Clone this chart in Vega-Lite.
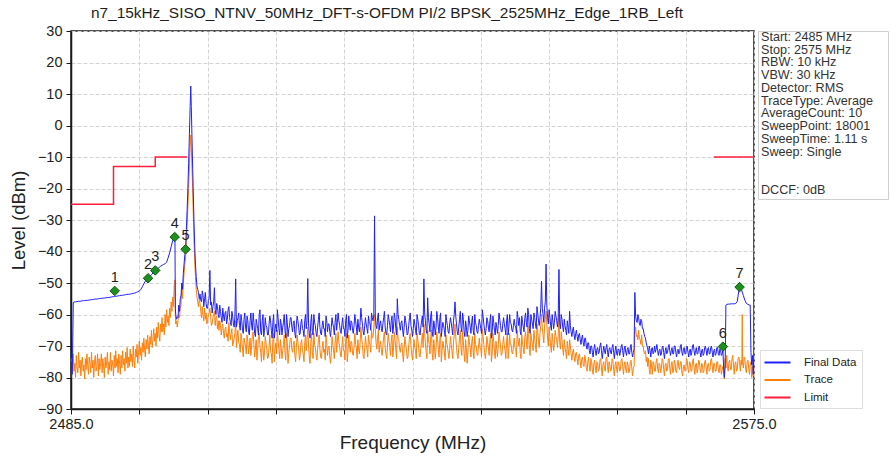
{
"$schema": "https://vega.github.io/schema/vega-lite/v6.json",
"background": "white",
"padding": {"left": 8, "top": 5, "right": 0, "bottom": 0},
"config": {"font": "Liberation Sans", "view": {"stroke": null}},
"title": {"text": "n7_15kHz_SISO_NTNV_50MHz_DFT-s-OFDM PI/2 BPSK_2525MHz_Edge_1RB_Left", "fontSize": 15.4, "fontWeight": "normal", "color": "#1e1e1e", "anchor": "start", "frame": "group", "dx": 20, "offset": 1},
"datasets": {
"tr": [
{"f":2485.0,"v":-79},{"f":2485.1,"v":-74},{"f":2485.2,"v":-77.5},{"f":2485.3,"v":-72.5},{"f":2485.4,"v":-78},{"f":2485.5,"v":-75.5},{"f":2485.6,"v":-80},{"f":2485.7,"v":-73},{"f":2485.8,"v":-76.5},{"f":2485.9,"v":-78.5},
{"f":2486.0,"v":-72},{"f":2486.1,"v":-77},{"f":2486.2,"v":-74.5},{"f":2486.3,"v":-79.5},{"f":2486.4,"v":-75},{"f":2486.5,"v":-73.5},{"f":2486.6,"v":-78},{"f":2486.7,"v":-76},{"f":2486.8,"v":-80.5},{"f":2486.9,"v":-74},
{"f":2487.0,"v":-77.5},{"f":2487.1,"v":-72.5},{"f":2487.2,"v":-76},{"f":2487.3,"v":-79},{"f":2487.4,"v":-73.5},{"f":2487.5,"v":-75.5},{"f":2487.6,"v":-78.5},{"f":2487.7,"v":-72},{"f":2487.8,"v":-77},{"f":2487.9,"v":-74.5},
{"f":2488.0,"v":-80},{"f":2488.1,"v":-75},{"f":2488.2,"v":-73},{"f":2488.3,"v":-78},{"f":2488.4,"v":-76.5},{"f":2488.5,"v":-72.5},{"f":2488.6,"v":-79.5},{"f":2488.7,"v":-74},{"f":2488.8,"v":-77.5},{"f":2488.9,"v":-75.5},
{"f":2489.0,"v":-72.5},{"f":2489.1,"v":-78.5},{"f":2489.2,"v":-74},{"f":2489.3,"v":-76.5},{"f":2489.4,"v":-80},{"f":2489.5,"v":-73.5},{"f":2489.6,"v":-77},{"f":2489.7,"v":-75},{"f":2489.8,"v":-72},{"f":2489.9,"v":-79},
{"f":2490.0,"v":-75},{"f":2490.1,"v":-77.5},{"f":2490.2,"v":-72},{"f":2490.3,"v":-78},{"f":2490.4,"v":-74.5},{"f":2490.5,"v":-76},{"f":2490.6,"v":-79.5},{"f":2490.7,"v":-73},{"f":2490.8,"v":-77},{"f":2490.9,"v":-71.5},
{"f":2491.0,"v":-76.5},{"f":2491.1,"v":-74},{"f":2491.2,"v":-78.5},{"f":2491.3,"v":-72.5},{"f":2491.4,"v":-75.5},{"f":2491.5,"v":-79},{"f":2491.6,"v":-73},{"f":2491.7,"v":-77},{"f":2491.8,"v":-71.5},{"f":2491.9,"v":-76},
{"f":2492.0,"v":-74},{"f":2492.1,"v":-78},{"f":2492.2,"v":-72},{"f":2492.3,"v":-75.5},{"f":2492.4,"v":-70.5},{"f":2492.5,"v":-77},{"f":2492.6,"v":-73.5},{"f":2492.7,"v":-76.5},{"f":2492.8,"v":-71},{"f":2492.9,"v":-75},
{"f":2493.0,"v":-72.5},{"f":2493.1,"v":-76.5},{"f":2493.2,"v":-70},{"f":2493.3,"v":-74.5},{"f":2493.4,"v":-77},{"f":2493.5,"v":-71},{"f":2493.6,"v":-73.5},{"f":2493.7,"v":-69.5},{"f":2493.8,"v":-75.5},{"f":2493.9,"v":-72},
{"f":2494.0,"v":-68.5},{"f":2494.1,"v":-73},{"f":2494.2,"v":-70.5},{"f":2494.3,"v":-74.5},{"f":2494.4,"v":-69},{"f":2494.5,"v":-72},{"f":2494.6,"v":-67.5},{"f":2494.7,"v":-71.5},{"f":2494.8,"v":-73.5},{"f":2494.9,"v":-68},
{"f":2495.0,"v":-71},{"f":2495.1,"v":-66.5},{"f":2495.2,"v":-70},{"f":2495.3,"v":-72.5},{"f":2495.4,"v":-67},{"f":2495.5,"v":-69.5},{"f":2495.6,"v":-65},{"f":2495.7,"v":-70.5},{"f":2495.8,"v":-68},{"f":2495.9,"v":-64.5},
{"f":2496.0,"v":-68.5},{"f":2496.1,"v":-66},{"f":2496.2,"v":-70},{"f":2496.3,"v":-64},{"f":2496.4,"v":-67.5},{"f":2496.5,"v":-62.5},{"f":2496.6,"v":-66.5},{"f":2496.7,"v":-68.5},{"f":2496.8,"v":-63},{"f":2496.9,"v":-65.5},
{"f":2497.0,"v":-61},{"f":2497.1,"v":-65.5},{"f":2497.2,"v":-63},{"f":2497.3,"v":-66.5},{"f":2497.4,"v":-60},{"f":2497.5,"v":-64},{"f":2497.6,"v":-58.5},{"f":2497.7,"v":-62.5},{"f":2497.8,"v":-60.5},{"f":2497.9,"v":-63.5},
{"f":2498.0,"v":-58},{"f":2498.1,"v":-61},{"f":2498.2,"v":-56},{"f":2498.3,"v":-59},{"f":2498.4,"v":-54.5},{"f":2498.5,"v":-57.5},{"f":2498.6,"v":-51},{"f":2498.7,"v":-49},{"f":2498.75,"v":-60},{"f":2498.8,"v":-63},
{"f":2498.9,"v":-62},{"f":2499.0,"v":-64},{"f":2499.1,"v":-62},{"f":2499.2,"v":-60},{"f":2499.3,"v":-61},{"f":2499.4,"v":-58},{"f":2499.5,"v":-57},{"f":2499.6,"v":-51},{"f":2499.7,"v":-55},{"f":2499.8,"v":-50},
{"f":2499.9,"v":-47},{"f":2500.0,"v":-44},{"f":2500.1,"v":-42},{"f":2500.2,"v":-37},{"f":2500.3,"v":-32},{"f":2500.4,"v":-26},{"f":2500.5,"v":-20},{"f":2500.6,"v":-13},{"f":2500.7,"v":-7},{"f":2500.78,"v":-3},
{"f":2500.85,"v":-7},{"f":2501.0,"v":-18},{"f":2501.1,"v":-27},{"f":2501.2,"v":-36},{"f":2501.3,"v":-43},{"f":2501.4,"v":-48},{"f":2501.5,"v":-52},{"f":2501.6,"v":-54.5},{"f":2501.7,"v":-56},{"f":2501.8,"v":-57.5},{"f":2501.9,"v":-55},
{"f":2502.0,"v":-56.5},{"f":2502.1,"v":-59},{"f":2502.2,"v":-61},{"f":2502.3,"v":-57.5},{"f":2502.4,"v":-60.5},{"f":2502.5,"v":-62},{"f":2502.6,"v":-58},{"f":2502.7,"v":-61.5},{"f":2502.8,"v":-59.5},{"f":2502.9,"v":-63},
{"f":2503.0,"v":-62},{"f":2503.1,"v":-60},{"f":2503.2,"v":-59.5},{"f":2503.3,"v":-58},{"f":2503.4,"v":-60.5},{"f":2503.5,"v":-63.5},{"f":2503.6,"v":-63},{"f":2503.7,"v":-61},{"f":2503.8,"v":-60},{"f":2503.9,"v":-59},
{"f":2504.0,"v":-63.5},{"f":2504.1,"v":-61},{"f":2504.2,"v":-60.5},{"f":2504.3,"v":-64.5},{"f":2504.4,"v":-62},{"f":2504.5,"v":-65},{"f":2504.6,"v":-62},{"f":2504.7,"v":-63.5},{"f":2504.8,"v":-66.5},{"f":2504.9,"v":-64},
{"f":2505.0,"v":-63},{"f":2505.1,"v":-66},{"f":2505.2,"v":-67.5},{"f":2505.3,"v":-64.5},{"f":2505.4,"v":-64},{"f":2505.5,"v":-67},{"f":2505.6,"v":-66},{"f":2505.7,"v":-68.5},{"f":2505.8,"v":-62.5},{"f":2505.9,"v":-65.5},
{"f":2506.0,"v":-68},{"f":2506.1,"v":-66},{"f":2506.2,"v":-64.5},{"f":2506.3,"v":-70},{"f":2506.4,"v":-69},{"f":2506.5,"v":-67.5},{"f":2506.6,"v":-66},{"f":2506.7,"v":-62},{"f":2506.8,"v":-70.5},{"f":2506.9,"v":-67},
{"f":2507.0,"v":-65},{"f":2507.1,"v":-69},{"f":2507.2,"v":-69.5},{"f":2507.3,"v":-72},{"f":2507.4,"v":-66},{"f":2507.5,"v":-68},{"f":2507.6,"v":-71},{"f":2507.7,"v":-73.5},{"f":2507.8,"v":-67.5},{"f":2507.9,"v":-69},
{"f":2508.0,"v":-70},{"f":2508.1,"v":-72.5},{"f":2508.2,"v":-66.5},{"f":2508.3,"v":-68.5},{"f":2508.4,"v":-72.5},{"f":2508.5,"v":-70},{"f":2508.6,"v":-67.5},{"f":2508.7,"v":-73},{"f":2508.8,"v":-70},{"f":2508.9,"v":-66.5},
{"f":2509.0,"v":-65.5},{"f":2509.1,"v":-69.5},{"f":2509.2,"v":-73.5},{"f":2509.3,"v":-71},{"f":2509.4,"v":-68},{"f":2509.5,"v":-74.5},{"f":2509.6,"v":-71.5},{"f":2509.7,"v":-67},{"f":2509.8,"v":-66},{"f":2509.9,"v":-70},
{"f":2510.0,"v":-72},{"f":2510.1,"v":-75},{"f":2510.2,"v":-68.5},{"f":2510.3,"v":-70.5},{"f":2510.4,"v":-74.5},{"f":2510.5,"v":-72},{"f":2510.6,"v":-67},{"f":2510.7,"v":-69},{"f":2510.8,"v":-71},{"f":2510.9,"v":-74},
{"f":2511.0,"v":-73.5},{"f":2511.1,"v":-70},{"f":2511.2,"v":-66.5},{"f":2511.3,"v":-71.5},{"f":2511.4,"v":-72.5},{"f":2511.5,"v":-75.5},{"f":2511.6,"v":-68},{"f":2511.7,"v":-66},{"f":2511.8,"v":-75},{"f":2511.9,"v":-71},
{"f":2512.0,"v":-69},{"f":2512.1,"v":-72.5},{"f":2512.2,"v":-65},{"f":2512.3,"v":-68.5},{"f":2512.4,"v":-71},{"f":2512.5,"v":-74},{"f":2512.6,"v":-68},{"f":2512.7,"v":-70.5},{"f":2512.8,"v":-74},{"f":2512.9,"v":-71.5},
{"f":2513.0,"v":-69.5},{"f":2513.1,"v":-66.5},{"f":2513.2,"v":-72},{"f":2513.3,"v":-74.5},{"f":2513.4,"v":-66},{"f":2513.5,"v":-69},{"f":2513.6,"v":-75.5},{"f":2513.7,"v":-72},{"f":2513.8,"v":-70},{"f":2513.9,"v":-67.5},
{"f":2514.0,"v":-67.5},{"f":2514.1,"v":-71},{"f":2514.2,"v":-72},{"f":2514.3,"v":-69.5},{"f":2514.4,"v":-68.5},{"f":2514.5,"v":-73},{"f":2514.6,"v":-75},{"f":2514.7,"v":-70.5},{"f":2514.8,"v":-66.5},{"f":2514.9,"v":-69},
{"f":2515.0,"v":-71},{"f":2515.1,"v":-74.5},{"f":2515.2,"v":-73},{"f":2515.3,"v":-69},{"f":2515.4,"v":-68},{"f":2515.5,"v":-71.5},{"f":2515.6,"v":-72.5},{"f":2515.7,"v":-75},{"f":2515.8,"v":-69},{"f":2515.9,"v":-66.5},
{"f":2516.0,"v":-71.5},{"f":2516.1,"v":-68},{"f":2516.2,"v":-64},{"f":2516.3,"v":-70},{"f":2516.4,"v":-73.5},{"f":2516.5,"v":-75.5},{"f":2516.6,"v":-69},{"f":2516.7,"v":-66},{"f":2516.8,"v":-72},{"f":2516.9,"v":-74},
{"f":2517.0,"v":-66},{"f":2517.1,"v":-69.5},{"f":2517.2,"v":-70.5},{"f":2517.3,"v":-73},{"f":2517.4,"v":-74.5},{"f":2517.5,"v":-71},{"f":2517.6,"v":-68},{"f":2517.7,"v":-66.5},{"f":2517.8,"v":-71},{"f":2517.9,"v":-73.5},
{"f":2518.0,"v":-74},{"f":2518.1,"v":-70.5},{"f":2518.2,"v":-68.5},{"f":2518.3,"v":-72},{"f":2518.4,"v":-71},{"f":2518.5,"v":-74.5},{"f":2518.6,"v":-66.5},{"f":2518.7,"v":-69},{"f":2518.8,"v":-73},{"f":2518.9,"v":-70.5},
{"f":2519.0,"v":-70},{"f":2519.1,"v":-73.5},{"f":2519.2,"v":-75.5},{"f":2519.3,"v":-72},{"f":2519.4,"v":-67},{"f":2519.5,"v":-69.5},{"f":2519.6,"v":-71.5},{"f":2519.7,"v":-74},{"f":2519.8,"v":-69},{"f":2519.9,"v":-66},
{"f":2520.0,"v":-72},{"f":2520.1,"v":-68.5},{"f":2520.2,"v":-65.5},{"f":2520.3,"v":-69},{"f":2520.4,"v":-70},{"f":2520.5,"v":-72.5},{"f":2520.6,"v":-73.5},{"f":2520.7,"v":-70},{"f":2520.8,"v":-67},{"f":2520.9,"v":-71.5},
{"f":2521.0,"v":-71.5},{"f":2521.1,"v":-74.5},{"f":2521.2,"v":-68},{"f":2521.3,"v":-66},{"f":2521.4,"v":-75},{"f":2521.5,"v":-72},{"f":2521.6,"v":-66.5},{"f":2521.7,"v":-70},{"f":2521.8,"v":-72},{"f":2521.9,"v":-68.5},
{"f":2522.0,"v":-69},{"f":2522.1,"v":-72.5},{"f":2522.2,"v":-73},{"f":2522.3,"v":-70},{"f":2522.4,"v":-66},{"f":2522.5,"v":-69.5},{"f":2522.6,"v":-70.5},{"f":2522.7,"v":-74},{"f":2522.8,"v":-68},{"f":2522.9,"v":-71},
{"f":2523.0,"v":-72.5},{"f":2523.1,"v":-69},{"f":2523.2,"v":-64},{"f":2523.3,"v":-67.5},{"f":2523.4,"v":-69.5},{"f":2523.5,"v":-73},{"f":2523.6,"v":-74},{"f":2523.7,"v":-70.5},{"f":2523.8,"v":-67},{"f":2523.9,"v":-69.5},
{"f":2524.0,"v":-71},{"f":2524.1,"v":-73.5},{"f":2524.2,"v":-66.5},{"f":2524.3,"v":-69},{"f":2524.4,"v":-69.5},{"f":2524.5,"v":-72},{"f":2524.6,"v":-65},{"f":2524.7,"v":-67.5},{"f":2524.8,"v":-67},{"f":2524.9,"v":-64},
{"f":2525.0,"v":-60},{"f":2525.1,"v":-64.5},{"f":2525.2,"v":-69},{"f":2525.3,"v":-71},{"f":2525.4,"v":-67.5},{"f":2525.5,"v":-65},{"f":2525.6,"v":-72},{"f":2525.7,"v":-69.5},{"f":2525.8,"v":-68.5},{"f":2525.9,"v":-71.5},
{"f":2526.0,"v":-73},{"f":2526.1,"v":-70},{"f":2526.2,"v":-67},{"f":2526.3,"v":-65.5},{"f":2526.4,"v":-70.5},{"f":2526.5,"v":-72.5},{"f":2526.6,"v":-74},{"f":2526.7,"v":-70},{"f":2526.8,"v":-66},{"f":2526.9,"v":-68.5},
{"f":2527.0,"v":-70},{"f":2527.1,"v":-73},{"f":2527.2,"v":-68.5},{"f":2527.3,"v":-66.5},{"f":2527.4,"v":-73.5},{"f":2527.5,"v":-70.5},{"f":2527.6,"v":-65.5},{"f":2527.7,"v":-68},{"f":2527.8,"v":-71},{"f":2527.9,"v":-74},
{"f":2528.0,"v":-64},{"f":2528.1,"v":-67.5},{"f":2528.2,"v":-68},{"f":2528.3,"v":-71},{"f":2528.4,"v":-72},{"f":2528.5,"v":-69.5},{"f":2528.6,"v":-69},{"f":2528.7,"v":-72.5},{"f":2528.8,"v":-75},{"f":2528.9,"v":-71},
{"f":2529.0,"v":-67},{"f":2529.1,"v":-69.5},{"f":2529.2,"v":-71},{"f":2529.3,"v":-74},{"f":2529.4,"v":-73.5},{"f":2529.5,"v":-70},{"f":2529.6,"v":-67.5},{"f":2529.7,"v":-66},{"f":2529.8,"v":-70},{"f":2529.9,"v":-72.5},
{"f":2530.0,"v":-74.5},{"f":2530.1,"v":-71},{"f":2530.2,"v":-68},{"f":2530.3,"v":-70.5},{"f":2530.4,"v":-71.5},{"f":2530.5,"v":-74},{"f":2530.6,"v":-66},{"f":2530.7,"v":-68},{"f":2530.8,"v":-70},{"f":2530.9,"v":-73},
{"f":2531.0,"v":-73.5},{"f":2531.1,"v":-70.5},{"f":2531.2,"v":-68.5},{"f":2531.3,"v":-66},{"f":2531.4,"v":-70.5},{"f":2531.5,"v":-63},{"f":2531.6,"v":-66},{"f":2531.7,"v":-69},{"f":2531.8,"v":-72},{"f":2531.9,"v":-74},
{"f":2532.0,"v":-65},{"f":2532.1,"v":-68},{"f":2532.2,"v":-69.5},{"f":2532.3,"v":-72.5},{"f":2532.4,"v":-67},{"f":2532.5,"v":-65},{"f":2532.6,"v":-72.5},{"f":2532.7,"v":-74.5},{"f":2532.8,"v":-68},{"f":2532.9,"v":-70.5},
{"f":2533.0,"v":-74},{"f":2533.1,"v":-71},{"f":2533.2,"v":-65.5},{"f":2533.3,"v":-68},{"f":2533.4,"v":-71},{"f":2533.5,"v":-73.5},{"f":2533.6,"v":-68},{"f":2533.7,"v":-66},{"f":2533.8,"v":-75},{"f":2533.9,"v":-71.5},
{"f":2534.0,"v":-68.5},{"f":2534.1,"v":-70},{"f":2534.2,"v":-72},{"f":2534.3,"v":-74.5},{"f":2534.4,"v":-66.5},{"f":2534.5,"v":-69},{"f":2534.6,"v":-70},{"f":2534.7,"v":-72},{"f":2534.8,"v":-74},{"f":2534.9,"v":-71},
{"f":2535.0,"v":-67},{"f":2535.1,"v":-69.5},{"f":2535.2,"v":-71.5},{"f":2535.3,"v":-74},{"f":2535.4,"v":-69},{"f":2535.5,"v":-66.5},{"f":2535.6,"v":-63},{"f":2535.7,"v":-67},{"f":2535.8,"v":-70.5},{"f":2535.9,"v":-73},
{"f":2536.0,"v":-74},{"f":2536.1,"v":-70.5},{"f":2536.2,"v":-67.5},{"f":2536.3,"v":-65},{"f":2536.4,"v":-71},{"f":2536.5,"v":-73},{"f":2536.6,"v":-65.5},{"f":2536.7,"v":-68.5},{"f":2536.8,"v":-72.5},{"f":2536.9,"v":-75},
{"f":2537.0,"v":-68},{"f":2537.1,"v":-71},{"f":2537.2,"v":-75.5},{"f":2537.3,"v":-72},{"f":2537.4,"v":-66.5},{"f":2537.5,"v":-69},{"f":2537.6,"v":-70.5},{"f":2537.7,"v":-73.5},{"f":2537.8,"v":-69},{"f":2537.9,"v":-67},
{"f":2538.0,"v":-72},{"f":2538.1,"v":-74},{"f":2538.2,"v":-66},{"f":2538.3,"v":-69.5},{"f":2538.4,"v":-70},{"f":2538.5,"v":-72.5},{"f":2538.6,"v":-73},{"f":2538.7,"v":-70},{"f":2538.8,"v":-67.5},{"f":2538.9,"v":-70.5},
{"f":2539.0,"v":-71},{"f":2539.1,"v":-73.5},{"f":2539.2,"v":-64.5},{"f":2539.3,"v":-67},{"f":2539.4,"v":-69.5},{"f":2539.5,"v":-72},{"f":2539.6,"v":-74},{"f":2539.7,"v":-71.5},{"f":2539.8,"v":-67},{"f":2539.9,"v":-69},
{"f":2540.0,"v":-70.5},{"f":2540.1,"v":-73},{"f":2540.2,"v":-68},{"f":2540.3,"v":-66},{"f":2540.4,"v":-75},{"f":2540.5,"v":-72.5},{"f":2540.6,"v":-66},{"f":2540.7,"v":-68.5},{"f":2540.8,"v":-72},{"f":2540.9,"v":-74},
{"f":2541.0,"v":-68.5},{"f":2541.1,"v":-71},{"f":2541.2,"v":-73.5},{"f":2541.3,"v":-70},{"f":2541.4,"v":-65.5},{"f":2541.5,"v":-68},{"f":2541.6,"v":-70},{"f":2541.7,"v":-73},{"f":2541.8,"v":-72.5},{"f":2541.9,"v":-69.5},
{"f":2542.0,"v":-67},{"f":2542.1,"v":-70},{"f":2542.2,"v":-71.5},{"f":2542.3,"v":-74},{"f":2542.4,"v":-68.5},{"f":2542.5,"v":-66},{"f":2542.6,"v":-74},{"f":2542.7,"v":-71},{"f":2542.8,"v":-66},{"f":2542.9,"v":-69.5},
{"f":2543.0,"v":-69.5},{"f":2543.1,"v":-72},{"f":2543.2,"v":-72.5},{"f":2543.3,"v":-70},{"f":2543.4,"v":-67.5},{"f":2543.5,"v":-70.5},{"f":2543.6,"v":-71},{"f":2543.7,"v":-73.5},{"f":2543.8,"v":-65},{"f":2543.9,"v":-68},
{"f":2544.0,"v":-70},{"f":2544.1,"v":-67.5},{"f":2544.2,"v":-72.5},{"f":2544.3,"v":-74},{"f":2544.4,"v":-66.5},{"f":2544.5,"v":-69},{"f":2544.6,"v":-70.5},{"f":2544.7,"v":-72.5},{"f":2544.8,"v":-67},{"f":2544.9,"v":-65.5},
{"f":2545.0,"v":-68.5},{"f":2545.1,"v":-71},{"f":2545.2,"v":-63.5},{"f":2545.3,"v":-66},{"f":2545.4,"v":-71},{"f":2545.5,"v":-73},{"f":2545.6,"v":-66},{"f":2545.7,"v":-68},{"f":2545.8,"v":-69.5},{"f":2545.9,"v":-71.5},
{"f":2546.0,"v":-65},{"f":2546.1,"v":-67.5},{"f":2546.2,"v":-70},{"f":2546.3,"v":-72},{"f":2546.4,"v":-63},{"f":2546.5,"v":-65.5},{"f":2546.6,"v":-68.5},{"f":2546.7,"v":-70.5},{"f":2546.8,"v":-66},{"f":2546.9,"v":-63.5},
{"f":2547.0,"v":-60},{"f":2547.1,"v":-64},{"f":2547.2,"v":-66.5},{"f":2547.3,"v":-69},{"f":2547.4,"v":-64},{"f":2547.5,"v":-61.5},{"f":2547.6,"v":-59},{"f":2547.7,"v":-63},{"f":2547.8,"v":-67.5},{"f":2547.9,"v":-70},
{"f":2548.0,"v":-64},{"f":2548.1,"v":-67},{"f":2548.2,"v":-70},{"f":2548.3,"v":-72},{"f":2548.4,"v":-66},{"f":2548.5,"v":-68.5},{"f":2548.6,"v":-71.5},{"f":2548.7,"v":-69},{"f":2548.8,"v":-65},{"f":2548.9,"v":-67},
{"f":2549.0,"v":-68},{"f":2549.1,"v":-70.5},{"f":2549.2,"v":-66.5},{"f":2549.3,"v":-60},{"f":2549.4,"v":-69},{"f":2549.5,"v":-71},{"f":2549.6,"v":-65.5},{"f":2549.7,"v":-68},{"f":2549.8,"v":-71},{"f":2549.9,"v":-73},
{"f":2550.0,"v":-68},{"f":2550.1,"v":-70.5},{"f":2550.2,"v":-72},{"f":2550.3,"v":-74},{"f":2550.4,"v":-68.5},{"f":2550.5,"v":-71},{"f":2550.6,"v":-73},{"f":2550.7,"v":-68},{"f":2550.8,"v":-70},{"f":2550.9,"v":-72.5},
{"f":2551.0,"v":-74.5},{"f":2551.1,"v":-72},{"f":2551.2,"v":-71},{"f":2551.3,"v":-73.5},{"f":2551.4,"v":-75},{"f":2551.5,"v":-72.5},{"f":2551.6,"v":-72},{"f":2551.7,"v":-74},{"f":2551.8,"v":-76},{"f":2551.9,"v":-73},
{"f":2552.0,"v":-72.5},{"f":2552.1,"v":-75},{"f":2552.2,"v":-77},{"f":2552.3,"v":-74},{"f":2552.4,"v":-73.5},{"f":2552.5,"v":-76},{"f":2552.6,"v":-76.5},{"f":2552.7,"v":-73},{"f":2552.8,"v":-74},{"f":2552.9,"v":-77},
{"f":2553.0,"v":-78},{"f":2553.1,"v":-75},{"f":2553.2,"v":-73.5},{"f":2553.3,"v":-76.5},{"f":2553.4,"v":-78},{"f":2553.5,"v":-74},{"f":2553.6,"v":-75},{"f":2553.7,"v":-77.5},{"f":2553.8,"v":-79},{"f":2553.9,"v":-75.5},
{"f":2554.0,"v":-74.5},{"f":2554.1,"v":-77},{"f":2554.2,"v":-78.5},{"f":2554.3,"v":-75},{"f":2554.4,"v":-75.5},{"f":2554.5,"v":-78},{"f":2554.6,"v":-77.5},{"f":2554.7,"v":-74.5},{"f":2554.8,"v":-74},{"f":2554.9,"v":-77},
{"f":2555.0,"v":-79.5},{"f":2555.1,"v":-76},{"f":2555.2,"v":-75},{"f":2555.3,"v":-77.5},{"f":2555.4,"v":-78},{"f":2555.5,"v":-74},{"f":2555.6,"v":-73.5},{"f":2555.7,"v":-76.5},{"f":2555.8,"v":-78.5},{"f":2555.9,"v":-75},
{"f":2556.0,"v":-76},{"f":2556.1,"v":-78},{"f":2556.2,"v":-77.5},{"f":2556.3,"v":-74},{"f":2556.4,"v":-74.5},{"f":2556.5,"v":-77.5},{"f":2556.6,"v":-79.5},{"f":2556.7,"v":-76},{"f":2556.8,"v":-75},{"f":2556.9,"v":-77.5},
{"f":2557.0,"v":-78.5},{"f":2557.1,"v":-75},{"f":2557.2,"v":-75.5},{"f":2557.3,"v":-78},{"f":2557.4,"v":-77.5},{"f":2557.5,"v":-74.5},{"f":2557.6,"v":-74},{"f":2557.7,"v":-76.5},{"f":2557.8,"v":-79},{"f":2557.9,"v":-76},
{"f":2558.0,"v":-75},{"f":2558.1,"v":-77.5},{"f":2558.2,"v":-78.5},{"f":2558.3,"v":-75},{"f":2558.4,"v":-76},{"f":2558.5,"v":-78.5},{"f":2558.6,"v":-78},{"f":2558.7,"v":-75},{"f":2558.8,"v":-74.5},{"f":2558.9,"v":-77},
{"f":2559.0,"v":-79.5},{"f":2559.1,"v":-77},{"f":2559.2,"v":-76.5},{"f":2559.3,"v":-66},{"f":2559.4,"v":-64},{"f":2559.5,"v":-67},{"f":2559.6,"v":-66.5},{"f":2559.7,"v":-68},{"f":2559.8,"v":-65},{"f":2559.9,"v":-67.5},
{"f":2560.0,"v":-68},{"f":2560.1,"v":-69.5},{"f":2560.2,"v":-66.5},{"f":2560.3,"v":-70},{"f":2560.4,"v":-70},{"f":2560.5,"v":-72},{"f":2560.6,"v":-72.5},{"f":2560.7,"v":-71.5},{"f":2560.8,"v":-75},{"f":2560.9,"v":-73.5},
{"f":2561.0,"v":-76.5},{"f":2561.1,"v":-74},{"f":2561.2,"v":-77.5},{"f":2561.3,"v":-79},{"f":2561.4,"v":-74.5},{"f":2561.5,"v":-76},{"f":2561.6,"v":-79},{"f":2561.7,"v":-75},{"f":2561.8,"v":-75.5},{"f":2561.9,"v":-78},
{"f":2562.0,"v":-78},{"f":2562.1,"v":-75},{"f":2562.2,"v":-74},{"f":2562.3,"v":-77},{"f":2562.4,"v":-78.5},{"f":2562.5,"v":-75.5},{"f":2562.6,"v":-76},{"f":2562.7,"v":-78.5},{"f":2562.8,"v":-77},{"f":2562.9,"v":-74},
{"f":2563.0,"v":-74.5},{"f":2563.1,"v":-77.5},{"f":2563.2,"v":-79.5},{"f":2563.3,"v":-76},{"f":2563.4,"v":-75.5},{"f":2563.5,"v":-78},{"f":2563.6,"v":-77.5},{"f":2563.7,"v":-74.5},{"f":2563.8,"v":-74},{"f":2563.9,"v":-77},
{"f":2564.0,"v":-79},{"f":2564.1,"v":-76},{"f":2564.2,"v":-75},{"f":2564.3,"v":-78.5},{"f":2564.4,"v":-78},{"f":2564.5,"v":-74.5},{"f":2564.6,"v":-75.5},{"f":2564.7,"v":-78},{"f":2564.8,"v":-78.5},{"f":2564.9,"v":-75.5},
{"f":2565.0,"v":-74.5},{"f":2565.1,"v":-77},{"f":2565.2,"v":-77.5},{"f":2565.3,"v":-75},{"f":2565.4,"v":-75},{"f":2565.5,"v":-78.5},{"f":2565.6,"v":-79.5},{"f":2565.7,"v":-76.5},{"f":2565.8,"v":-76},{"f":2565.9,"v":-78},
{"f":2566.0,"v":-77.5},{"f":2566.1,"v":-74},{"f":2566.2,"v":-74.5},{"f":2566.3,"v":-77.5},{"f":2566.4,"v":-78.5},{"f":2566.5,"v":-75},{"f":2566.6,"v":-75.5},{"f":2566.7,"v":-78},{"f":2566.8,"v":-78},{"f":2566.9,"v":-75},
{"f":2567.0,"v":-74},{"f":2567.1,"v":-77},{"f":2567.2,"v":-79},{"f":2567.3,"v":-76},{"f":2567.4,"v":-75.5},{"f":2567.5,"v":-78.5},{"f":2567.6,"v":-77.5},{"f":2567.7,"v":-74.5},{"f":2567.8,"v":-75},{"f":2567.9,"v":-77.5},
{"f":2568.0,"v":-78.5},{"f":2568.1,"v":-75.5},{"f":2568.2,"v":-76},{"f":2568.3,"v":-78.5},{"f":2568.4,"v":-78},{"f":2568.5,"v":-75},{"f":2568.6,"v":-74.5},{"f":2568.7,"v":-77},{"f":2568.8,"v":-79},{"f":2568.9,"v":-76},
{"f":2569.0,"v":-75.5},{"f":2569.1,"v":-78},{"f":2569.2,"v":-77.5},{"f":2569.3,"v":-74.5},{"f":2569.4,"v":-74},{"f":2569.5,"v":-76.5},{"f":2569.6,"v":-78.5},{"f":2569.7,"v":-75.5},{"f":2569.8,"v":-75.5},{"f":2569.9,"v":-78},
{"f":2570.0,"v":-78},{"f":2570.1,"v":-75},{"f":2570.2,"v":-75},{"f":2570.3,"v":-77.5},{"f":2570.4,"v":-78.5},{"f":2570.5,"v":-76},{"f":2570.6,"v":-76},{"f":2570.7,"v":-79},{"f":2570.8,"v":-77.5},{"f":2570.9,"v":-76.5},
{"f":2571.0,"v":-79},{"f":2571.1,"v":-80.5},{"f":2571.2,"v":-74},{"f":2571.3,"v":-77},{"f":2571.4,"v":-73},{"f":2571.5,"v":-76.5},{"f":2571.6,"v":-78},{"f":2571.7,"v":-75},{"f":2571.8,"v":-74.5},{"f":2571.9,"v":-77.5},
{"f":2572.0,"v":-77.5},{"f":2572.1,"v":-74},{"f":2572.2,"v":-73},{"f":2572.3,"v":-76},{"f":2572.4,"v":-79},{"f":2572.5,"v":-75.5},{"f":2572.6,"v":-75},{"f":2572.7,"v":-78},{"f":2572.8,"v":-77.5},{"f":2572.9,"v":-74},
{"f":2573.0,"v":-73.5},{"f":2573.1,"v":-75},{"f":2573.2,"v":-78},{"f":2573.3,"v":-74.5},{"f":2573.4,"v":-76},{"f":2573.45,"v":-60},{"f":2573.5,"v":-75},{"f":2573.6,"v":-77},{"f":2573.7,"v":-73.5},{"f":2573.8,"v":-74},{"f":2573.9,"v":-77.5},
{"f":2574.0,"v":-78.5},{"f":2574.1,"v":-75},{"f":2574.2,"v":-74.5},{"f":2574.3,"v":-77},{"f":2574.4,"v":-79},{"f":2574.5,"v":-76},{"f":2574.6,"v":-75},{"f":2574.7,"v":-80},{"f":2574.8,"v":-76.5},{"f":2574.9,"v":-79.5},{"f":2575.0,"v":-77}
],
"fd": [
{"f":2485.0,"v":-72},{"f":2485.05,"v":-80},{"f":2485.1,"v":-75},{"f":2485.15,"v":-79},{"f":2485.2,"v":-74},{"f":2485.3,"v":-56.3},
{"f":2485.4,"v":-56.0},{"f":2485.6,"v":-56.0},{"f":2485.8,"v":-55.9},{"f":2486.0,"v":-55.8},{"f":2486.2,"v":-55.8},{"f":2486.4,"v":-55.7},{"f":2486.6,"v":-55.6},{"f":2486.8,"v":-55.6},
{"f":2487.0,"v":-55.5},{"f":2487.2,"v":-55.5},{"f":2487.4,"v":-55.4},{"f":2487.6,"v":-55.3},{"f":2487.8,"v":-55.3},{"f":2488.0,"v":-55.2},{"f":2488.2,"v":-55.1},{"f":2488.4,"v":-55.1},
{"f":2488.6,"v":-55.0},{"f":2488.8,"v":-54.9},{"f":2489.0,"v":-54.9},{"f":2489.2,"v":-54.8},{"f":2489.4,"v":-54.8},{"f":2489.6,"v":-54.7},{"f":2489.8,"v":-54.6},{"f":2490.0,"v":-54.6},
{"f":2490.2,"v":-54.5},{"f":2490.4,"v":-54.4},{"f":2490.6,"v":-54.3},{"f":2490.8,"v":-54.2},{"f":2491.0,"v":-54.2},{"f":2491.2,"v":-54.1},{"f":2491.4,"v":-54.0},{"f":2491.6,"v":-53.9},
{"f":2491.8,"v":-53.9},{"f":2492.0,"v":-53.8},{"f":2492.2,"v":-53.7},{"f":2492.4,"v":-53.6},{"f":2492.6,"v":-53.6},{"f":2492.8,"v":-53.5},{"f":2493.0,"v":-53.4},{"f":2493.2,"v":-53.3},
{"f":2493.4,"v":-53.2},{"f":2493.6,"v":-53.0},{"f":2493.8,"v":-52.8},{"f":2494.0,"v":-52.5},{"f":2494.2,"v":-52.1},{"f":2494.4,"v":-51.2},{"f":2494.6,"v":-50.2},{"f":2494.8,"v":-49.4},
{"f":2495.0,"v":-48.9},{"f":2495.2,"v":-48.3},{"f":2495.4,"v":-47.9},{"f":2495.6,"v":-47.4},{"f":2495.8,"v":-46.8},{"f":2496.0,"v":-46.2},{"f":2496.2,"v":-45.9},{"f":2496.4,"v":-45.5},
{"f":2496.6,"v":-45.1},{"f":2496.8,"v":-44.7},{"f":2497.0,"v":-44.4},{"f":2497.2,"v":-44.1},{"f":2497.4,"v":-43.9},{"f":2497.6,"v":-43.4},{"f":2497.8,"v":-42.0},{"f":2498.0,"v":-40.4},
{"f":2498.2,"v":-38.5},{"f":2498.4,"v":-36.5},{"f":2498.6,"v":-35.1},{"f":2498.7,"v":-36},{"f":2498.75,"v":-58},{"f":2498.8,"v":-60},{"f":2498.9,"v":-61.5},{"f":2499.0,"v":-60.8},
{"f":2499.1,"v":-61},{"f":2499.2,"v":-57},{"f":2499.3,"v":-59},{"f":2499.4,"v":-55},{"f":2499.5,"v":-54},{"f":2499.6,"v":-50},{"f":2499.7,"v":-52},{"f":2499.8,"v":-47},
{"f":2499.9,"v":-44},{"f":2500.0,"v":-41},{"f":2500.1,"v":-39.3},{"f":2500.2,"v":-33},{"f":2500.3,"v":-27},{"f":2500.4,"v":-20},{"f":2500.5,"v":-12},{"f":2500.6,"v":-3},
{"f":2500.7,"v":6},{"f":2500.78,"v":12.5},{"f":2500.85,"v":6},{"f":2501.0,"v":-10},{"f":2501.1,"v":-20},{"f":2501.2,"v":-30},{"f":2501.3,"v":-38},{"f":2501.4,"v":-44},
{"f":2501.5,"v":-48},{"f":2501.6,"v":-51},{"f":2501.7,"v":-52},{"f":2501.8,"v":-53},{"f":2501.9,"v":-55},
{"f":2502.0,"v":-53.5},{"f":2502.1,"v":-55.5},{"f":2502.2,"v":-56},{"f":2502.3,"v":-52.5},{"f":2502.4,"v":-54},{"f":2502.5,"v":-57.5},{"f":2502.6,"v":-55},{"f":2502.7,"v":-53},{"f":2502.8,"v":-56.5},{"f":2502.9,"v":-58},
{"f":2503.0,"v":-58},{"f":2503.1,"v":-55.5},{"f":2503.2,"v":-55},{"f":2503.3,"v":-46},{"f":2503.4,"v":-57},{"f":2503.5,"v":-56},{"f":2503.6,"v":-59.5},{"f":2503.7,"v":-57.5},{"f":2503.8,"v":-56},{"f":2503.9,"v":-51.5},
{"f":2504.0,"v":-58.5},{"f":2504.1,"v":-60},{"f":2504.2,"v":-56.5},{"f":2504.3,"v":-57.5},{"f":2504.4,"v":-60},{"f":2504.5,"v":-61},{"f":2504.6,"v":-57},{"f":2504.7,"v":-59},{"f":2504.8,"v":-61},{"f":2504.9,"v":-62.5},
{"f":2505.0,"v":-58},{"f":2505.1,"v":-60.5},{"f":2505.2,"v":-62},{"f":2505.3,"v":-59.5},{"f":2505.4,"v":-59},{"f":2505.5,"v":-63},{"f":2505.6,"v":-61.5},{"f":2505.7,"v":-58.5},{"f":2505.8,"v":-57.5},{"f":2505.9,"v":-61},
{"f":2506.0,"v":-62.5},{"f":2506.1,"v":-63.5},{"f":2506.2,"v":-59},{"f":2506.3,"v":-60.5},{"f":2506.4,"v":-63},{"f":2506.5,"v":-64},{"f":2506.6,"v":-60.5},{"f":2506.7,"v":-48.7},{"f":2506.8,"v":-64},{"f":2506.9,"v":-62},
{"f":2507.0,"v":-61},{"f":2507.1,"v":-59.5},{"f":2507.2,"v":-63.5},{"f":2507.3,"v":-65},{"f":2507.4,"v":-60},{"f":2507.5,"v":-62},{"f":2507.6,"v":-65},{"f":2507.7,"v":-66},{"f":2507.8,"v":-61.5},{"f":2507.9,"v":-59.5},
{"f":2508.0,"v":-64},{"f":2508.1,"v":-65.5},{"f":2508.2,"v":-60.5},{"f":2508.3,"v":-62},{"f":2508.4,"v":-65.5},{"f":2508.5,"v":-66.5},{"f":2508.6,"v":-62},{"f":2508.7,"v":-59.5},{"f":2508.8,"v":-63.5},{"f":2508.9,"v":-65},
{"f":2509.0,"v":-59.5},{"f":2509.1,"v":-62.5},{"f":2509.2,"v":-66},{"f":2509.3,"v":-67},{"f":2509.4,"v":-61.5},{"f":2509.5,"v":-63},{"f":2509.6,"v":-64.5},{"f":2509.7,"v":-66.5},{"f":2509.8,"v":-60},{"f":2509.9,"v":-58.5},
{"f":2510.0,"v":-65.5},{"f":2510.1,"v":-66.5},{"f":2510.2,"v":-62},{"f":2510.3,"v":-60},{"f":2510.4,"v":-67},{"f":2510.5,"v":-65},{"f":2510.6,"v":-61},{"f":2510.7,"v":-63.5},{"f":2510.8,"v":-64},{"f":2510.9,"v":-66.5},
{"f":2511.0,"v":-66.5},{"f":2511.1,"v":-63},{"f":2511.2,"v":-60.5},{"f":2511.3,"v":-62},{"f":2511.4,"v":-65},{"f":2511.5,"v":-67.5},{"f":2511.6,"v":-62.5},{"f":2511.7,"v":-60},{"f":2511.8,"v":-67.5},{"f":2511.9,"v":-64.5},
{"f":2512.0,"v":-63},{"f":2512.1,"v":-65.5},{"f":2512.2,"v":-58.5},{"f":2512.3,"v":-61.5},{"f":2512.4,"v":-64.5},{"f":2512.5,"v":-66.5},{"f":2512.6,"v":-61.5},{"f":2512.7,"v":-63},{"f":2512.8,"v":-66.5},{"f":2512.9,"v":-64},
{"f":2513.0,"v":-62.5},{"f":2513.1,"v":-60},{"f":2513.2,"v":-65},{"f":2513.3,"v":-67.5},{"f":2513.4,"v":-60},{"f":2513.5,"v":-62.5},{"f":2513.6,"v":-67},{"f":2513.7,"v":-64.5},{"f":2513.8,"v":-63.5},{"f":2513.9,"v":-61},
{"f":2514.0,"v":-61},{"f":2514.1,"v":-64},{"f":2514.2,"v":-65.5},{"f":2514.3,"v":-62.5},{"f":2514.4,"v":-62},{"f":2514.5,"v":-66},{"f":2514.6,"v":-67.5},{"f":2514.7,"v":-63},{"f":2514.8,"v":-60.5},{"f":2514.9,"v":-62},
{"f":2515.0,"v":-64},{"f":2515.1,"v":-66.5},{"f":2515.2,"v":-66},{"f":2515.3,"v":-62.5},{"f":2515.4,"v":-61.5},{"f":2515.5,"v":-64.5},{"f":2515.6,"v":-65},{"f":2515.7,"v":-67},{"f":2515.8,"v":-62},{"f":2515.9,"v":-60},
{"f":2516.0,"v":-64.5},{"f":2516.1,"v":-62},{"f":2516.2,"v":-48.6},{"f":2516.3,"v":-63},{"f":2516.4,"v":-66},{"f":2516.5,"v":-67.5},{"f":2516.6,"v":-62.5},{"f":2516.7,"v":-60},{"f":2516.8,"v":-65.5},{"f":2516.9,"v":-66.5},
{"f":2517.0,"v":-60},{"f":2517.1,"v":-62.5},{"f":2517.2,"v":-63.5},{"f":2517.3,"v":-66},{"f":2517.4,"v":-67},{"f":2517.5,"v":-64},{"f":2517.6,"v":-61.5},{"f":2517.7,"v":-59.5},{"f":2517.8,"v":-64},{"f":2517.9,"v":-66},
{"f":2518.0,"v":-66.5},{"f":2518.1,"v":-63.5},{"f":2518.2,"v":-62},{"f":2518.3,"v":-64.5},{"f":2518.4,"v":-64.5},{"f":2518.5,"v":-67},{"f":2518.6,"v":-60.5},{"f":2518.7,"v":-62},{"f":2518.8,"v":-65.5},{"f":2518.9,"v":-63},
{"f":2519.0,"v":-63},{"f":2519.1,"v":-65.5},{"f":2519.2,"v":-67},{"f":2519.3,"v":-64},{"f":2519.4,"v":-61},{"f":2519.5,"v":-63},{"f":2519.6,"v":-64},{"f":2519.7,"v":-66.5},{"f":2519.8,"v":-62.5},{"f":2519.9,"v":-60},
{"f":2520.0,"v":-65},{"f":2520.1,"v":-62.5},{"f":2520.2,"v":-59.5},{"f":2520.3,"v":-62},{"f":2520.4,"v":-63.5},{"f":2520.5,"v":-65.5},{"f":2520.6,"v":-66},{"f":2520.7,"v":-63},{"f":2520.8,"v":-61},{"f":2520.9,"v":-64.5},
{"f":2521.0,"v":-64.5},{"f":2521.1,"v":-67},{"f":2521.2,"v":-62},{"f":2521.3,"v":-60},{"f":2521.4,"v":-67.5},{"f":2521.5,"v":-65},{"f":2521.6,"v":-60.5},{"f":2521.7,"v":-63},{"f":2521.8,"v":-65},{"f":2521.9,"v":-62},
{"f":2522.0,"v":-62.5},{"f":2522.1,"v":-65},{"f":2522.2,"v":-66},{"f":2522.3,"v":-63.5},{"f":2522.4,"v":-60},{"f":2522.5,"v":-62},{"f":2522.6,"v":-64},{"f":2522.7,"v":-66.5},{"f":2522.8,"v":-61.5},{"f":2522.9,"v":-64},
{"f":2523.0,"v":-65.5},{"f":2523.1,"v":-62.5},{"f":2523.2,"v":-58},{"f":2523.3,"v":-61},{"f":2523.4,"v":-63},{"f":2523.5,"v":-65.5},{"f":2523.6,"v":-66.5},{"f":2523.7,"v":-63.5},{"f":2523.8,"v":-61},{"f":2523.9,"v":-63},
{"f":2524.0,"v":-64.5},{"f":2524.1,"v":-66},{"f":2524.2,"v":-60.5},{"f":2524.3,"v":-62.5},{"f":2524.4,"v":-63},{"f":2524.5,"v":-65},{"f":2524.6,"v":-59.5},{"f":2524.7,"v":-61},{"f":2524.8,"v":-62},{"f":2524.9,"v":-60},
{"f":2525.0,"v":-28.7},{"f":2525.1,"v":-60.5},{"f":2525.2,"v":-63.5},{"f":2525.3,"v":-64.5},{"f":2525.4,"v":-61},{"f":2525.5,"v":-59.5},{"f":2525.6,"v":-65},{"f":2525.7,"v":-63},{"f":2525.8,"v":-62},{"f":2525.9,"v":-64.5},
{"f":2526.0,"v":-65.5},{"f":2526.1,"v":-63},{"f":2526.2,"v":-61},{"f":2526.3,"v":-59},{"f":2526.4,"v":-64},{"f":2526.5,"v":-66},{"f":2526.6,"v":-66.5},{"f":2526.7,"v":-63.5},{"f":2526.8,"v":-60},{"f":2526.9,"v":-61.5},
{"f":2527.0,"v":-63.5},{"f":2527.1,"v":-65.5},{"f":2527.2,"v":-62},{"f":2527.3,"v":-60.5},{"f":2527.4,"v":-66},{"f":2527.5,"v":-64},{"f":2527.6,"v":-59.5},{"f":2527.7,"v":-61},{"f":2527.8,"v":-64.5},{"f":2527.9,"v":-66.5},
{"f":2528.0,"v":-55},{"f":2528.1,"v":-60},{"f":2528.2,"v":-61.5},{"f":2528.3,"v":-63.5},{"f":2528.4,"v":-65},{"f":2528.5,"v":-62.5},{"f":2528.6,"v":-62},{"f":2528.7,"v":-65},{"f":2528.8,"v":-67},{"f":2528.9,"v":-64},
{"f":2529.0,"v":-60.5},{"f":2529.1,"v":-62},{"f":2529.2,"v":-64},{"f":2529.3,"v":-66.5},{"f":2529.4,"v":-66},{"f":2529.5,"v":-63.5},{"f":2529.6,"v":-61},{"f":2529.7,"v":-59.5},{"f":2529.8,"v":-63.5},{"f":2529.9,"v":-65},
{"f":2530.0,"v":-67},{"f":2530.1,"v":-64.5},{"f":2530.2,"v":-61.5},{"f":2530.3,"v":-63},{"f":2530.4,"v":-65},{"f":2530.5,"v":-66.5},{"f":2530.6,"v":-60},{"f":2530.7,"v":-61.5},{"f":2530.8,"v":-63.5},{"f":2530.9,"v":-66},
{"f":2531.0,"v":-66.5},{"f":2531.1,"v":-64},{"f":2531.2,"v":-62},{"f":2531.3,"v":-60.5},{"f":2531.4,"v":-64},{"f":2531.5,"v":-48.7},{"f":2531.6,"v":-59.5},{"f":2531.7,"v":-62},{"f":2531.8,"v":-65},{"f":2531.9,"v":-66},
{"f":2532.0,"v":-54.7},{"f":2532.1,"v":-61},{"f":2532.2,"v":-63},{"f":2532.3,"v":-65.5},{"f":2532.4,"v":-60.5},{"f":2532.5,"v":-59},{"f":2532.6,"v":-65.5},{"f":2532.7,"v":-67},{"f":2532.8,"v":-62},{"f":2532.9,"v":-63.5},
{"f":2533.0,"v":-66.5},{"f":2533.1,"v":-64},{"f":2533.2,"v":-59},{"f":2533.3,"v":-61},{"f":2533.4,"v":-64},{"f":2533.5,"v":-66},{"f":2533.6,"v":-61.5},{"f":2533.7,"v":-59.5},{"f":2533.8,"v":-67},{"f":2533.9,"v":-64.5},
{"f":2534.0,"v":-62.5},{"f":2534.1,"v":-63.5},{"f":2534.2,"v":-65},{"f":2534.3,"v":-67},{"f":2534.4,"v":-60},{"f":2534.5,"v":-62},{"f":2534.6,"v":-63.5},{"f":2534.7,"v":-65.5},{"f":2534.8,"v":-66},{"f":2534.9,"v":-63},
{"f":2535.0,"v":-61},{"f":2535.1,"v":-62.5},{"f":2535.2,"v":-64.5},{"f":2535.3,"v":-66.5},{"f":2535.4,"v":-62},{"f":2535.5,"v":-60},{"f":2535.6,"v":-56},{"f":2535.7,"v":-60.5},{"f":2535.8,"v":-63},{"f":2535.9,"v":-65.5},
{"f":2536.0,"v":-66.5},{"f":2536.1,"v":-64},{"f":2536.2,"v":-61.5},{"f":2536.3,"v":-59},{"f":2536.4,"v":-64},{"f":2536.5,"v":-65.5},{"f":2536.6,"v":-59.5},{"f":2536.7,"v":-61.5},{"f":2536.8,"v":-65.5},{"f":2536.9,"v":-67},
{"f":2537.0,"v":-62},{"f":2537.1,"v":-64},{"f":2537.2,"v":-67},{"f":2537.3,"v":-65},{"f":2537.4,"v":-60.5},{"f":2537.5,"v":-62},{"f":2537.6,"v":-64},{"f":2537.7,"v":-66},{"f":2537.8,"v":-62.5},{"f":2537.9,"v":-60.5},
{"f":2538.0,"v":-65},{"f":2538.1,"v":-66.5},{"f":2538.2,"v":-60},{"f":2538.3,"v":-62.5},{"f":2538.4,"v":-63.5},{"f":2538.5,"v":-65.5},{"f":2538.6,"v":-66},{"f":2538.7,"v":-63.5},{"f":2538.8,"v":-61.5},{"f":2538.9,"v":-63},
{"f":2539.0,"v":-64.5},{"f":2539.1,"v":-66},{"f":2539.2,"v":-58.5},{"f":2539.3,"v":-60.5},{"f":2539.4,"v":-63},{"f":2539.5,"v":-65},{"f":2539.6,"v":-66.5},{"f":2539.7,"v":-64.5},{"f":2539.8,"v":-61},{"f":2539.9,"v":-62},
{"f":2540.0,"v":-64},{"f":2540.1,"v":-65.5},{"f":2540.2,"v":-62},{"f":2540.3,"v":-60},{"f":2540.4,"v":-67.5},{"f":2540.5,"v":-65.5},{"f":2540.6,"v":-60.5},{"f":2540.7,"v":-62.5},{"f":2540.8,"v":-65},{"f":2540.9,"v":-66.5},
{"f":2541.0,"v":-62.5},{"f":2541.1,"v":-64},{"f":2541.2,"v":-66},{"f":2541.3,"v":-63.5},{"f":2541.4,"v":-59.5},{"f":2541.5,"v":-61.5},{"f":2541.6,"v":-63.5},{"f":2541.7,"v":-65.5},{"f":2541.8,"v":-65.5},{"f":2541.9,"v":-63},
{"f":2542.0,"v":-61},{"f":2542.1,"v":-63},{"f":2542.2,"v":-64.5},{"f":2542.3,"v":-66.5},{"f":2542.4,"v":-62},{"f":2542.5,"v":-60},{"f":2542.6,"v":-66.5},{"f":2542.7,"v":-64},{"f":2542.8,"v":-60},{"f":2542.9,"v":-62.5},
{"f":2543.0,"v":-63},{"f":2543.1,"v":-65},{"f":2543.2,"v":-65.5},{"f":2543.3,"v":-63.5},{"f":2543.4,"v":-61.5},{"f":2543.5,"v":-63.5},{"f":2543.6,"v":-64},{"f":2543.7,"v":-66},{"f":2543.8,"v":-59},{"f":2543.9,"v":-61},
{"f":2544.0,"v":-63.5},{"f":2544.1,"v":-61},{"f":2544.2,"v":-65.5},{"f":2544.3,"v":-66.5},{"f":2544.4,"v":-60.5},{"f":2544.5,"v":-62.5},{"f":2544.6,"v":-64},{"f":2544.7,"v":-65.5},{"f":2544.8,"v":-61},{"f":2544.9,"v":-59.5},
{"f":2545.0,"v":-62.5},{"f":2545.1,"v":-64},{"f":2545.2,"v":-58},{"f":2545.3,"v":-60},{"f":2545.4,"v":-64.5},{"f":2545.5,"v":-66},{"f":2545.6,"v":-60},{"f":2545.7,"v":-61.5},{"f":2545.8,"v":-63},{"f":2545.9,"v":-64.5},
{"f":2546.0,"v":-59.5},{"f":2546.1,"v":-61},{"f":2546.2,"v":-63},{"f":2546.3,"v":-64.5},{"f":2546.4,"v":-57.5},{"f":2546.5,"v":-59.5},{"f":2546.6,"v":-62},{"f":2546.7,"v":-63.5},{"f":2546.8,"v":-61},{"f":2546.9,"v":-58},
{"f":2547.0,"v":-49.4},{"f":2547.1,"v":-58},{"f":2547.2,"v":-60},{"f":2547.3,"v":-62.5},{"f":2547.4,"v":-58},{"f":2547.5,"v":-56},{"f":2547.6,"v":-44},{"f":2547.7,"v":-57},{"f":2547.8,"v":-61},{"f":2547.9,"v":-63},
{"f":2548.0,"v":-58.5},{"f":2548.1,"v":-60.5},{"f":2548.2,"v":-63.5},{"f":2548.3,"v":-65},{"f":2548.4,"v":-60},{"f":2548.5,"v":-62},{"f":2548.6,"v":-64.5},{"f":2548.7,"v":-62.5},{"f":2548.8,"v":-59},{"f":2548.9,"v":-60.5},
{"f":2549.0,"v":-62},{"f":2549.1,"v":-64},{"f":2549.2,"v":-61},{"f":2549.3,"v":-45.7},{"f":2549.4,"v":-62.5},{"f":2549.5,"v":-64.5},{"f":2549.6,"v":-60},{"f":2549.7,"v":-61.5},{"f":2549.8,"v":-64},{"f":2549.9,"v":-65.5},
{"f":2550.0,"v":-61.5},{"f":2550.1,"v":-63.5},{"f":2550.2,"v":-65},{"f":2550.3,"v":-66.5},{"f":2550.4,"v":-62},{"f":2550.5,"v":-64},{"f":2550.6,"v":-66},{"f":2550.7,"v":-59},{"f":2550.8,"v":-63.5},{"f":2550.9,"v":-65.5},
{"f":2551.0,"v":-67},{"f":2551.1,"v":-65},{"f":2551.2,"v":-64},{"f":2551.3,"v":-66.5},{"f":2551.4,"v":-68},{"f":2551.5,"v":-66},{"f":2551.6,"v":-65},{"f":2551.7,"v":-67},{"f":2551.8,"v":-68.5},{"f":2551.9,"v":-66.5},
{"f":2552.0,"v":-66},{"f":2552.1,"v":-68},{"f":2552.2,"v":-69.5},{"f":2552.3,"v":-67.5},{"f":2552.4,"v":-66.5},{"f":2552.5,"v":-69},{"f":2552.6,"v":-70},{"f":2552.7,"v":-67.5},{"f":2552.8,"v":-67.5},{"f":2552.9,"v":-70},
{"f":2553.0,"v":-71},{"f":2553.1,"v":-69},{"f":2553.2,"v":-69},{"f":2553.3,"v":-71.5},{"f":2553.4,"v":-72.5},{"f":2553.5,"v":-70},{"f":2553.6,"v":-70},{"f":2553.7,"v":-72},{"f":2553.8,"v":-73.5},{"f":2553.9,"v":-71},
{"f":2554.0,"v":-69.5},{"f":2554.1,"v":-71.5},{"f":2554.2,"v":-73},{"f":2554.3,"v":-71},{"f":2554.4,"v":-70.5},{"f":2554.5,"v":-72.5},{"f":2554.6,"v":-72},{"f":2554.7,"v":-70},{"f":2554.8,"v":-69},{"f":2554.9,"v":-71.5},
{"f":2555.0,"v":-74},{"f":2555.1,"v":-72},{"f":2555.2,"v":-70},{"f":2555.3,"v":-71.5},{"f":2555.4,"v":-72.5},{"f":2555.5,"v":-70.5},{"f":2555.6,"v":-69.5},{"f":2555.7,"v":-72},{"f":2555.8,"v":-73.5},{"f":2555.9,"v":-71},
{"f":2556.0,"v":-70.5},{"f":2556.1,"v":-72},{"f":2556.2,"v":-72.5},{"f":2556.3,"v":-70.5},{"f":2556.4,"v":-69.5},{"f":2556.5,"v":-72},{"f":2556.6,"v":-74},{"f":2556.7,"v":-71.5},{"f":2556.8,"v":-70},{"f":2556.9,"v":-72.5},
{"f":2557.0,"v":-73},{"f":2557.1,"v":-71},{"f":2557.2,"v":-71},{"f":2557.3,"v":-73},{"f":2557.4,"v":-72},{"f":2557.5,"v":-70},{"f":2557.6,"v":-69.5},{"f":2557.7,"v":-71.5},{"f":2557.8,"v":-73.5},{"f":2557.9,"v":-71},
{"f":2558.0,"v":-70},{"f":2558.1,"v":-72},{"f":2558.2,"v":-73},{"f":2558.3,"v":-71},{"f":2558.4,"v":-70.5},{"f":2558.5,"v":-72.5},{"f":2558.6,"v":-72.5},{"f":2558.7,"v":-70.5},{"f":2558.8,"v":-69.5},{"f":2558.9,"v":-72},
{"f":2559.0,"v":-73.5},{"f":2559.1,"v":-72},{"f":2559.2,"v":-71},{"f":2559.3,"v":-53},{"f":2559.4,"v":-60.5},{"f":2559.5,"v":-62},{"f":2559.6,"v":-62.5},{"f":2559.7,"v":-60},{"f":2559.8,"v":-61},{"f":2559.9,"v":-63},
{"f":2560.0,"v":-63.5},{"f":2560.1,"v":-61.5},{"f":2560.2,"v":-62},{"f":2560.3,"v":-64.5},{"f":2560.4,"v":-64.5},{"f":2560.5,"v":-66},{"f":2560.6,"v":-67},{"f":2560.7,"v":-67.5},{"f":2560.8,"v":-69},{"f":2560.9,"v":-70},
{"f":2561.0,"v":-71},{"f":2561.1,"v":-72.5},{"f":2561.2,"v":-70},{"f":2561.3,"v":-71.5},{"f":2561.4,"v":-73.5},{"f":2561.5,"v":-71},{"f":2561.6,"v":-70.5},{"f":2561.7,"v":-72.5},{"f":2561.8,"v":-72},{"f":2561.9,"v":-70},
{"f":2562.0,"v":-72},{"f":2562.1,"v":-71},{"f":2562.2,"v":-69.5},{"f":2562.3,"v":-71.5},{"f":2562.4,"v":-73},{"f":2562.5,"v":-71.5},{"f":2562.6,"v":-71},{"f":2562.7,"v":-73},{"f":2562.8,"v":-72.5},{"f":2562.9,"v":-70.5},
{"f":2563.0,"v":-70},{"f":2563.1,"v":-72},{"f":2563.2,"v":-74},{"f":2563.3,"v":-71.5},{"f":2563.4,"v":-70.5},{"f":2563.5,"v":-72.5},{"f":2563.6,"v":-72},{"f":2563.7,"v":-70.5},{"f":2563.8,"v":-69.5},{"f":2563.9,"v":-71.5},
{"f":2564.0,"v":-73},{"f":2564.1,"v":-71.5},{"f":2564.2,"v":-70.5},{"f":2564.3,"v":-72.5},{"f":2564.4,"v":-72.5},{"f":2564.5,"v":-70},{"f":2564.6,"v":-70},{"f":2564.7,"v":-72},{"f":2564.8,"v":-73.5},{"f":2564.9,"v":-71.5},
{"f":2565.0,"v":-71},{"f":2565.1,"v":-72.5},{"f":2565.2,"v":-72},{"f":2565.3,"v":-70},{"f":2565.4,"v":-69.5},{"f":2565.5,"v":-72},{"f":2565.6,"v":-73},{"f":2565.7,"v":-71},{"f":2565.8,"v":-70.5},{"f":2565.9,"v":-72.5},
{"f":2566.0,"v":-72.5},{"f":2566.1,"v":-70.5},{"f":2566.2,"v":-70},{"f":2566.3,"v":-72},{"f":2566.4,"v":-73.5},{"f":2566.5,"v":-71.5},{"f":2566.6,"v":-71},{"f":2566.7,"v":-73},{"f":2566.8,"v":-72},{"f":2566.9,"v":-70},
{"f":2567.0,"v":-69.5},{"f":2567.1,"v":-71.5},{"f":2567.2,"v":-73},{"f":2567.3,"v":-71.5},{"f":2567.4,"v":-70.5},{"f":2567.5,"v":-72.5},{"f":2567.6,"v":-72.5},{"f":2567.7,"v":-70.5},{"f":2567.8,"v":-70},{"f":2567.9,"v":-72},
{"f":2568.0,"v":-73.5},{"f":2568.1,"v":-71.5},{"f":2568.2,"v":-71},{"f":2568.3,"v":-73},{"f":2568.4,"v":-72.5},{"f":2568.5,"v":-70.5},{"f":2568.6,"v":-70},{"f":2568.7,"v":-71.5},{"f":2568.8,"v":-73},{"f":2568.9,"v":-71},
{"f":2569.0,"v":-70.5},{"f":2569.1,"v":-72.5},{"f":2569.2,"v":-72.5},{"f":2569.3,"v":-70.5},{"f":2569.4,"v":-70},{"f":2569.5,"v":-72},{"f":2569.6,"v":-73.5},{"f":2569.7,"v":-71.5},{"f":2569.8,"v":-71},{"f":2569.9,"v":-73},
{"f":2570.0,"v":-72.5},{"f":2570.1,"v":-70.5},{"f":2570.2,"v":-70.5},{"f":2570.3,"v":-72.5},{"f":2570.4,"v":-73},{"f":2570.5,"v":-71},{"f":2570.6,"v":-71.5},{"f":2570.7,"v":-73},{"f":2570.8,"v":-72.5},{"f":2570.9,"v":-71},
{"f":2571.0,"v":-77},{"f":2571.1,"v":-80},{"f":2571.2,"v":-76},{"f":2571.3,"v":-57},{"f":2571.4,"v":-56.8},{"f":2571.6,"v":-56.7},{"f":2571.8,"v":-56.7},{"f":2572.0,"v":-56.6},{"f":2572.2,"v":-56.6},{"f":2572.4,"v":-56.6},
{"f":2572.6,"v":-56.5},{"f":2572.8,"v":-55.8},{"f":2573.0,"v":-52.5},{"f":2573.1,"v":-51.3},{"f":2573.2,"v":-51.5},{"f":2573.4,"v":-52.5},{"f":2573.6,"v":-54},{"f":2573.8,"v":-55.5},{"f":2574.0,"v":-56.5},{"f":2574.2,"v":-56.8},
{"f":2574.4,"v":-57},{"f":2574.5,"v":-57},{"f":2574.6,"v":-72},{"f":2574.7,"v":-76},{"f":2574.8,"v":-73},{"f":2574.9,"v":-79},{"f":2575.0,"v":-74}
],
"lim": [
{"f":2485,"v":-25,"s":"a"},{"f":2490.6,"v":-25,"s":"a"},{"f":2490.6,"v":-13,"s":"a"},{"f":2496.1,"v":-13,"s":"a"},
{"f":2496.1,"v":-10,"s":"a"},{"f":2500.3,"v":-10,"s":"a"},{"f":2569.7,"v":-10,"s":"b"},{"f":2575,"v":-10,"s":"b"}
],
"mk": [
{"f":2490.76,"v":-52.5,"n":"1"},{"f":2495.15,"v":-48.5,"n":"2"},{"f":2496.1,"v":-46,"n":"3"},{"f":2498.66,"v":-35.4,"n":"4"},
{"f":2500.1,"v":-39.3,"n":"5"},{"f":2570.9,"v":-70.2,"n":"6"},{"f":2573.1,"v":-51.3,"n":"7"}
],
"info": [
{"i":0,"t":"Start: 2485 MHz"},{"i":1,"t":"Stop: 2575 MHz"},{"i":2,"t":"RBW: 10 kHz"},{"i":3,"t":"VBW: 30 kHz"},
{"i":4,"t":"Detector: RMS"},{"i":5,"t":"TraceType: Average"},{"i":6,"t":"AverageCount: 10"},{"i":7,"t":"SweepPoint: 18001"},
{"i":8,"t":"SweepTime: 1.11 s"},{"i":9,"t":"Sweep: Single"},{"i":12,"t":"DCCF: 0dB"}
]
},
"bounds": "flush",
"spacing": 4,
"resolve": {"scale": {"color": "independent"}, "legend": {"color": "independent"}},
"hconcat": [
{
"width": 683,
"height": 378,
"view": {"stroke": "#1a1a1a", "strokeWidth": 1.5},
"encoding": {
"x": {"field": "f", "type": "quantitative", "scale": {"domain": [2485, 2575], "nice": false, "zero": false},
"axis": {"values": [2485,2494,2503,2512,2521,2530,2539,2548,2557,2566,2575],
"labelExpr": "datum.value == 2485 || datum.value == 2575 ? format(datum.value, '.1f') : ''",
"labelFlush": false, "labelOverlap": false, "grid": true, "gridColor": "#d4d4d4", "gridDash": [4, 2],
"domainColor": "#1a1a1a", "domainWidth": 1.5, "tickColor": "#1a1a1a", "tickSize": 5, "labelFontSize": 14.5,
"labelColor": "#222222", "labelPadding": 3, "title": "Frequency (MHz)", "titleFontSize": 19, "titleFontWeight": "normal",
"titleColor": "#222222", "titlePadding": 3}},
"y": {"field": "v", "type": "quantitative", "scale": {"domain": [-90, 30], "nice": false, "zero": false},
"axis": {"values": [-90,-80,-70,-60,-50,-40,-30,-20,-10,0,10,20,30], "grid": true, "gridColor": "#d4d4d4", "gridDash": [4, 2],
"domainColor": "#1a1a1a", "domainWidth": 1.5, "tickColor": "#1a1a1a", "tickSize": 5, "labelFontSize": 14.5,
"labelColor": "#222222", "labelPadding": 4, "title": "Level (dBm)", "titleFontSize": 18.5, "titleFontWeight": "normal",
"titleColor": "#222222", "titlePadding": 9}}
},
"layer": [
{
"data": {"name": "tr"},
"mark": {"type": "line", "strokeWidth": 1, "clip": true},
"encoding": {
"color": {"datum": "Trace", "scale": {"domain": ["Final Data", "Trace", "Limit"], "range": ["#1f1fff", "#ff7f0a", "#ff1e3c"]},
"legend": {"orient": "none", "legendX": 689, "legendY": 319, "title": null, "symbolType": "M-2,0H2", "symbolStrokeWidth": 2,
"symbolSize": 169, "symbolOffset": 5, "labelFontSize": 11.5, "labelColor": "#222222", "labelOffset": 19, "rowPadding": 4.5, "padding": 5,
"strokeColor": "#dddddd", "fillColor": "white"}}
}
},
{
"data": {"name": "fd"},
"mark": {"type": "line", "strokeWidth": 1, "clip": true},
"encoding": {"color": {"datum": "Final Data"}}
},
{
"data": {"name": "lim"},
"mark": {"type": "line", "strokeWidth": 1.5},
"encoding": {"color": {"datum": "Limit"}, "detail": {"field": "s"}}
},
{
"data": {"name": "mk"},
"mark": {"type": "point", "shape": "diamond", "filled": true, "fill": "#1e8f1e", "stroke": "#0d5c0d", "strokeWidth": 1, "size": 90, "opacity": 1}
},
{
"data": {"name": "mk"},
"mark": {"type": "text", "dy": -13, "fontSize": 14.5, "color": "#1e1e1e"},
"encoding": {"text": {"field": "n"}}
}
]
},
{
"width": 130,
"height": 168,
"view": {"stroke": "#cfcfcf", "strokeWidth": 1},
"data": {"name": "info"},
"mark": {"type": "text", "align": "left", "baseline": "middle", "dx": 3, "fontSize": 12.6, "color": "#333333"},
"encoding": {
"x": {"datum": 0, "type": "quantitative", "scale": {"domain": [0, 1]}, "axis": null},
"y": {"field": "i", "type": "quantitative", "scale": {"domain": [-0.47, 12.706], "reverse": true, "nice": false, "zero": false}, "axis": null},
"text": {"field": "t", "type": "nominal"}
}
}
]
}
